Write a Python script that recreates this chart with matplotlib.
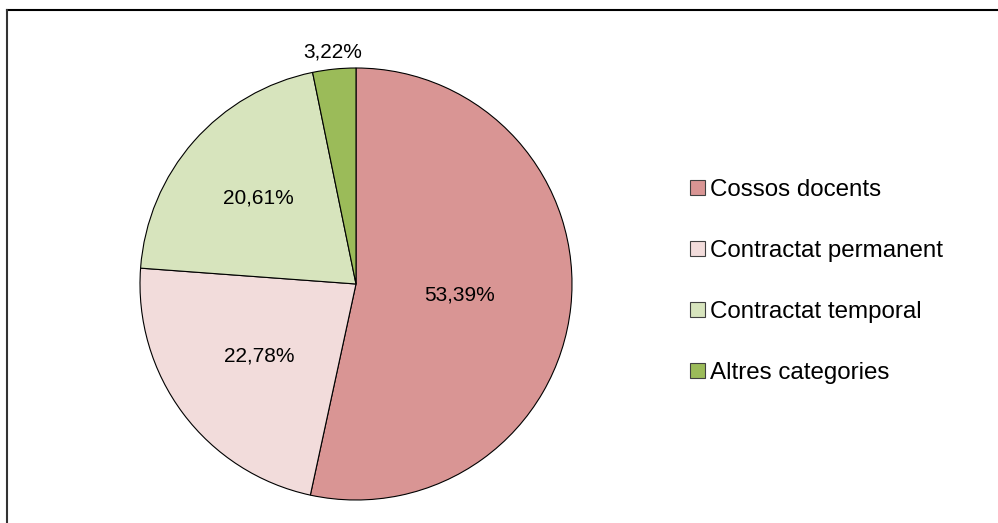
import matplotlib
matplotlib.use("Agg")
import matplotlib.pyplot as plt
import numpy as np
from matplotlib.patches import Patch
from matplotlib.lines import Line2D

categories = ["Cossos docents", "Contractat permanent", "Contractat temporal", "Altres categories"]
values = [53.39, 22.78, 20.61, 3.22]
labels = ["53,39%", "22,78%", "20,61%", "3,22%"]
colors = ["#D99594", "#F2DCDB", "#D7E4BD", "#9BBB59"]
label_dist = [0.48, 0.56, 0.60, 1.08]

plt.rcParams['font.family'] = ['Liberation Sans', 'DejaVu Sans']

W, H = 998, 523
fig = plt.figure(figsize=(W / 100, H / 100), dpi=100)

cx, cy, r = 356, 284, 216
ax = fig.add_axes([(cx - r) / W, (H - cy - r) / H, 2 * r / W, 2 * r / H])
wedges, _ = ax.pie(values, colors=colors, startangle=90, counterclock=False,
                   wedgeprops=dict(edgecolor="black", linewidth=0.8), radius=1)
ax.set_xlim(-1, 1)
ax.set_ylim(-1, 1)
ax.set_aspect("equal")
ax.axis("off")

for w, lab, d in zip(wedges, labels, label_dist):
    ang = np.deg2rad((w.theta1 + w.theta2) / 2)
    ax.text(d * np.cos(ang), d * np.sin(ang), lab, ha="center", va="center",
            fontsize=15, color="black")

handles = [Patch(facecolor=c, edgecolor="#404040", linewidth=0.8) for c in colors]
leg = fig.legend(handles, categories, loc="center left",
                 bbox_to_anchor=(678 / W, 1 - 281.5 / H), frameon=False,
                 fontsize=17.4, handlelength=0.62, handleheight=0.62,
                 handletextpad=0.2, labelspacing=1.61, borderpad=0)

# partial frame: top and left lines
fig.add_artist(Line2D([7 / W, 1], [1 - 10 / H, 1 - 10 / H], color="black", linewidth=1.5,
                      transform=fig.transFigure))
fig.add_artist(Line2D([7 / W, 7 / W], [0, 1 - 10 / H], color="#333333", linewidth=1.5,
                      transform=fig.transFigure))

fig.savefig("out.png", dpi=100)
